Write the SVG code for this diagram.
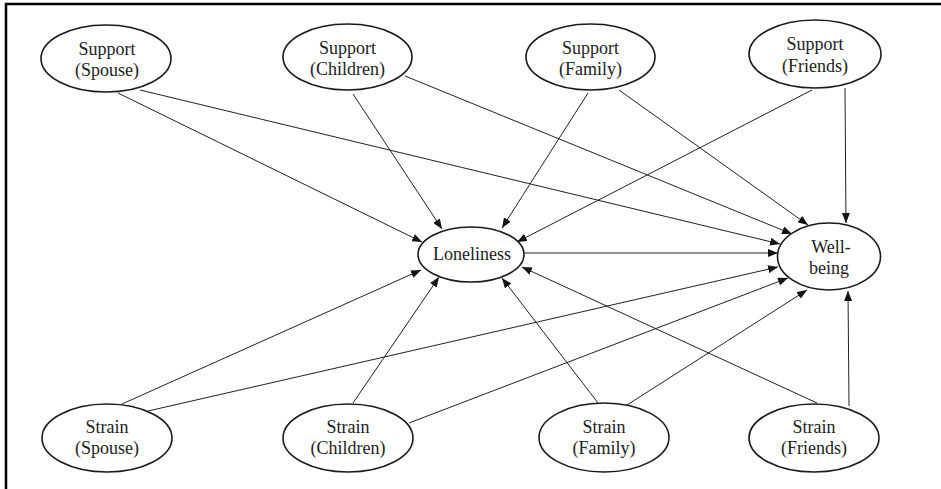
<svg xmlns="http://www.w3.org/2000/svg" width="941" height="489" viewBox="0 0 941 489">
<style>
.n ellipse{fill:#fff;stroke:#1a1a1a;stroke-width:1.6}
.n text{font-family:"Liberation Serif","Times New Roman",serif;font-size:18px;fill:#222;text-anchor:middle}
#edges line{stroke:#222;stroke-width:1;marker-end:url(#ah)}
</style>
<defs>
<marker id="ah" markerUnits="userSpaceOnUse" markerWidth="10" markerHeight="8" refX="10" refY="4" orient="auto">
<path d="M0,0 L10,4 L0,8 z" fill="#111"/>
</marker>
</defs>
<rect width="941" height="489" fill="#fff"/>
<path d="M6,489 V4 H941" fill="none" stroke="#000" stroke-width="2.5"/>
<g id="edges">
<line x1="118" y1="93" x2="422" y2="242"/>
<line x1="140" y1="90" x2="780" y2="244"/>
<line x1="353" y1="94" x2="442" y2="229"/>
<line x1="405" y1="76" x2="792" y2="234"/>
<line x1="588" y1="93" x2="502" y2="228"/>
<line x1="619" y1="90" x2="808" y2="225"/>
<line x1="812" y1="90" x2="517" y2="242"/>
<line x1="845" y1="88" x2="846" y2="223"/>
<line x1="524" y1="253" x2="778" y2="253"/>
<line x1="122" y1="404" x2="421" y2="270"/>
<line x1="148" y1="411" x2="778" y2="267"/>
<line x1="353" y1="403" x2="439" y2="277"/>
<line x1="409" y1="423" x2="788" y2="278"/>
<line x1="598" y1="403" x2="502" y2="278"/>
<line x1="627" y1="405" x2="807" y2="290"/>
<line x1="817" y1="403" x2="522" y2="267"/>
<line x1="849" y1="406" x2="848" y2="291"/>
</g>
<g id="support-spouse" class="n"><ellipse cx="106" cy="58.5" rx="65" ry="33.5"/><text x="107" y="55">Support</text><text x="107" y="76">(Spouse)</text></g>
<g id="support-children" class="n"><ellipse cx="347.5" cy="57" rx="64.5" ry="33"/><text x="347.5" y="54">Support</text><text x="347.5" y="75">(Children)</text></g>
<g id="support-family" class="n"><ellipse cx="590.5" cy="57" rx="64.5" ry="33"/><text x="590.5" y="54">Support</text><text x="590.5" y="75">(Family)</text></g>
<g id="support-friends" class="n"><ellipse cx="815" cy="54" rx="66" ry="34"/><text x="815" y="50">Support</text><text x="815" y="72">(Friends)</text></g>
<g id="loneliness" class="n"><ellipse cx="471" cy="254.5" rx="53" ry="27.5"/><text x="472" y="260">Loneliness</text></g>
<g id="well-being" class="n"><ellipse cx="829" cy="256.5" rx="51.5" ry="33.5"/><text x="831" y="253">Well-</text><text x="829" y="274">being</text></g>
<g id="strain-spouse" class="n"><ellipse cx="107" cy="438" rx="65" ry="34"/><text x="107" y="433">Strain</text><text x="107" y="454">(Spouse)</text></g>
<g id="strain-children" class="n"><ellipse cx="348" cy="438" rx="65" ry="34"/><text x="348" y="433">Strain</text><text x="348" y="454">(Children)</text></g>
<g id="strain-family" class="n"><ellipse cx="604" cy="437.5" rx="65" ry="34.5"/><text x="604" y="433">Strain</text><text x="604" y="454">(Family)</text></g>
<g id="strain-friends" class="n"><ellipse cx="814" cy="438" rx="65" ry="34"/><text x="814" y="433">Strain</text><text x="814" y="454">(Friends)</text></g>
</svg>
